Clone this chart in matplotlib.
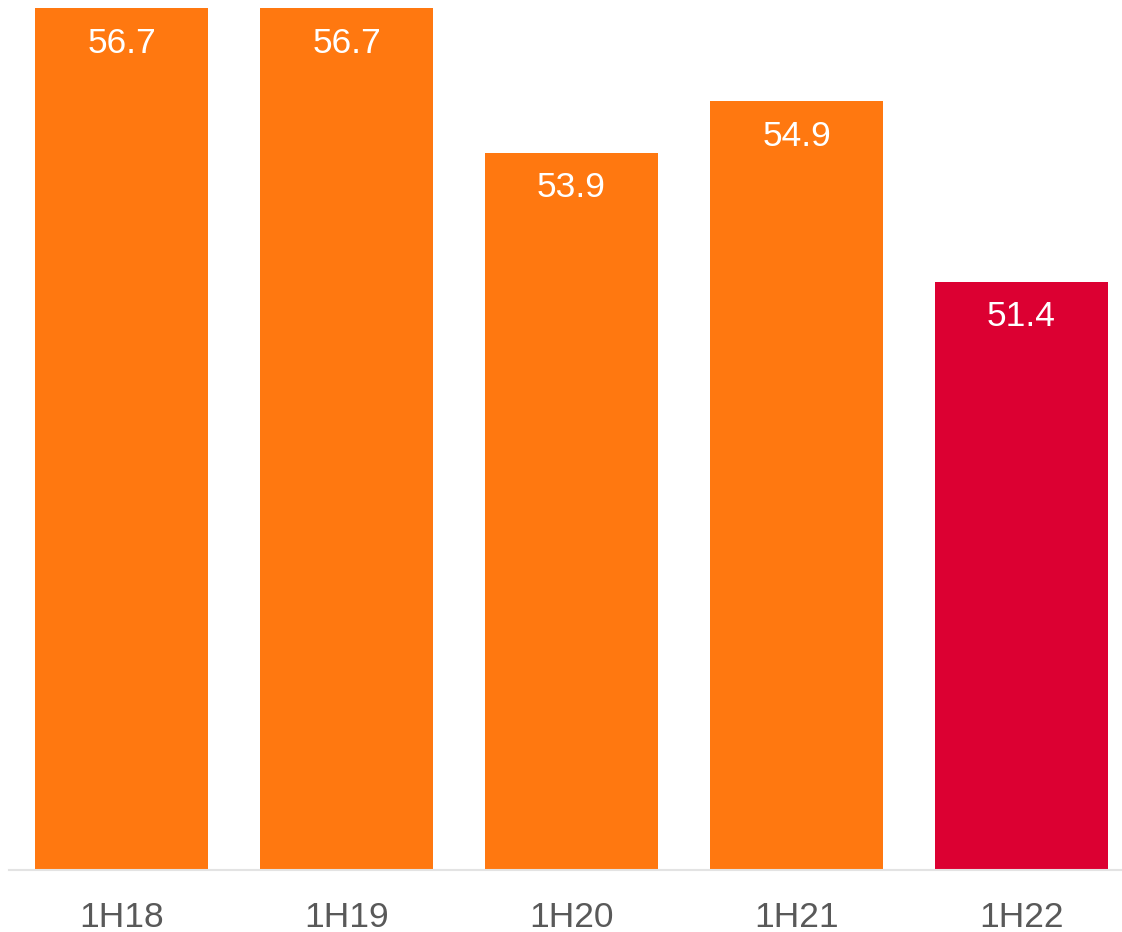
import matplotlib
matplotlib.use("Agg")
import matplotlib.pyplot as plt

periods = ["1H18", "1H19", "1H20", "1H21", "1H22"]
values = [56.7, 56.7, 53.9, 54.9, 51.4]
bar_colors = ["#FF7810", "#FF7810", "#FF7810", "#FF7810", "#DC0032"]

plt.rcParams["font.family"] = ["Liberation Sans", "DejaVu Sans"]

fig = plt.figure(figsize=(11.22, 9.32), dpi=100)
ax = fig.add_axes([9 / 1122, 62 / 932, 1125 / 1122, 870 / 932])

x = range(len(periods))
bars = ax.bar(x, values, width=0.77, color=bar_colors)

# value labels inside the top of each bar
for xi, v in zip(x, values):
    ax.text(xi, v - 0.36, f"{v:.1f}", ha="center", va="top",
            color="white", fontsize=25.5)

ax.set_xlim(-0.5, 4.5)
ax.set_ylim(40, 56.86)
ax.set_xticks(list(x))
ax.set_xticklabels(periods, fontsize=25.5, color="#595959")
ax.tick_params(axis="x", length=0, pad=22)
ax.set_yticks([])

for side in ["left", "right", "top"]:
    ax.spines[side].set_visible(False)
ax.spines["bottom"].set_color("#e3e3e3")
ax.spines["bottom"].set_linewidth(1.5)

fig.savefig("out.png", dpi=100)
